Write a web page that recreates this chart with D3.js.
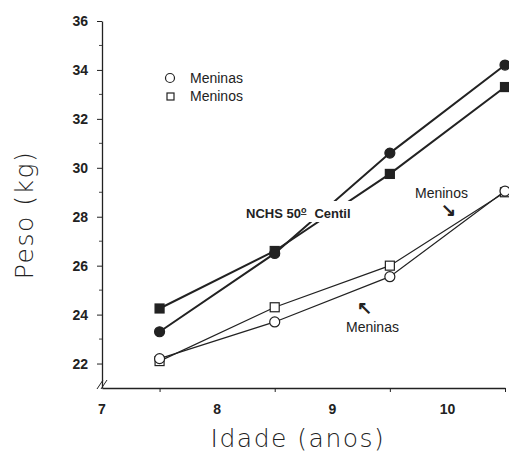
<!DOCTYPE html>
<html>
<head>
<meta charset="utf-8">
<script src="https://cdn.jsdelivr.net/npm/d3@7"></script>
<style>
  body { margin: 0; background: #fff; }
  text { font-family: "Liberation Sans", Arial, sans-serif; fill: #222; }
</style>
</head>
<body>
<div id="chart"></div>
<script>
// Idade (anos) for each point
const ages = [7.5, 8.5, 9.5, 10.5];
// NCHS 50th centile reference
const nchsGirls = [23.3, 26.5, 30.6, 34.2];
const nchsBoys = [24.25, 26.6, 29.75, 33.3];
// study sample
const girls = [22.2, 23.7, 25.55, 29.05];
const boys = [22.1, 24.3, 26.0, 29.0];
const xTickLabels = [7, 8, 9, 10];
const yTickLabels = [22, 24, 26, 28, 30, 32, 34, 36];

const width = 509, height = 454;
const svg = d3.select('#chart').append('svg')
  .attr('width', width)
  .attr('height', height);

const x = d3.scaleLinear().domain([7, 10.5]).range([102, 505]);
const y = d3.scaleLinear().domain([21, 36]).range([388, 21]);

// y axis
const yAxis = svg.append('g')
  .attr('transform', 'translate(102,0)')
  .call(d3.axisLeft(y).tickValues(yTickLabels).tickSize(5).tickPadding(9).tickSizeOuter(0));
yAxis.select('.domain').attr('stroke', '#222').attr('stroke-width', 1.3);
yAxis.selectAll('.tick line').attr('stroke', '#222');
yAxis.selectAll('text').style('font-size', '14px').style('font-weight', 'bold').attr('fill', '#333');
// minor ticks at odd values
svg.append('g').selectAll('line')
  .data(d3.range(23, 36, 2))
  .enter().append('line')
  .attr('x1', 99).attr('x2', 102)
  .attr('y1', d => y(d)).attr('y2', d => y(d))
  .attr('stroke', '#444');

// x axis
const xAxis = svg.append('g')
  .attr('transform', 'translate(0,388)')
  .call(d3.axisBottom(x).tickValues(ages).tickSize(4).tickFormat('').tickSizeOuter(0));
xAxis.select('.domain').attr('stroke', '#222').attr('stroke-width', 1.3);
xAxis.selectAll('.tick line').attr('stroke', '#222');
svg.append('g').selectAll('text')
  .data(xTickLabels)
  .enter().append('text')
  .attr('x', d => x(d))
  .attr('y', 414)
  .attr('text-anchor', 'middle')
  .style('font-size', '14px')
  .style('font-weight', 'bold')
  .attr('fill', '#333')
  .text(d => d);

// axis break marks
svg.append('g').selectAll('line')
  .data([0, 4])
  .enter().append('line')
  .attr('x1', d => 97 + d).attr('y1', 389)
  .attr('x2', d => 103 + d).attr('y2', 380)
  .attr('stroke', '#222').attr('stroke-width', 1);

// axis titles
svg.append('text')
  .attr('transform', 'translate(33,215) rotate(-90)')
  .attr('text-anchor', 'middle')
  .style('font-size', '25px')
  .style('letter-spacing', '1.5px')
  .style('font-family', '"DejaVu Sans", sans-serif')
  .style('font-weight', '200')
  .attr('fill', '#333')
  .text('Peso (kg)');
svg.append('text')
  .attr('x', 298)
  .attr('y', 447)
  .attr('text-anchor', 'middle')
  .style('font-size', '25px')
  .style('letter-spacing', '1.5px')
  .style('font-family', '"DejaVu Sans", sans-serif')
  .style('font-weight', '200')
  .attr('fill', '#333')
  .text('Idade (anos)');

const line = vals => d3.line()
  .x((d, i) => x(ages[i]))
  .y(d => y(d))(vals);

// lines
svg.append('path').attr('d', line(nchsGirls)).attr('fill', 'none').attr('stroke', '#222').attr('stroke-width', 2);
svg.append('path').attr('d', line(nchsBoys)).attr('fill', 'none').attr('stroke', '#222').attr('stroke-width', 2);
svg.append('path').attr('d', line(girls)).attr('fill', 'none').attr('stroke', '#222').attr('stroke-width', 1.2);
svg.append('path').attr('d', line(boys)).attr('fill', 'none').attr('stroke', '#222').attr('stroke-width', 1.2);

// mask for the NCHS label
svg.append('rect')
  .attr('x', 240).attr('y', 201).attr('width', 122).attr('height', 21)
  .attr('fill', '#fff');
const nchs = svg.append('text')
  .attr('x', 246).attr('y', 218)
  .style('font-size', '13px')
  .style('font-weight', 'bold')
  .attr('fill', '#333');
nchs.append('tspan').text('NCHS 50');
nchs.append('tspan').attr('dy', -5).style('font-size', '9px').style('text-decoration', 'underline').text('o');
nchs.append('tspan').attr('dy', 5).attr('dx', 8).text('Centil');

// markers
const circles = (vals, filled) => svg.append('g').selectAll('circle')
  .data(vals).enter().append('circle')
  .attr('cx', (d, i) => x(ages[i]))
  .attr('cy', d => y(d))
  .attr('r', 5)
  .attr('fill', filled ? '#222' : '#fff')
  .attr('stroke', '#222').attr('stroke-width', 1.2);
const squares = (vals, filled) => svg.append('g').selectAll('rect')
  .data(vals).enter().append('rect')
  .attr('x', (d, i) => x(ages[i]) - 4.5)
  .attr('y', d => y(d) - 4.5)
  .attr('width', 9).attr('height', 9)
  .attr('fill', filled ? '#222' : '#fff')
  .attr('stroke', '#222').attr('stroke-width', 1.2);
squares(boys, false);
circles(girls, false);
squares(nchsBoys, true);
circles(nchsGirls, true);

// legend
svg.append('circle').attr('cx', 170).attr('cy', 78).attr('r', 4.5)
  .attr('fill', '#fff').attr('stroke', '#222').attr('stroke-width', 1.2);
svg.append('rect').attr('x', 167).attr('y', 93).attr('width', 7).attr('height', 7)
  .attr('fill', '#fff').attr('stroke', '#222').attr('stroke-width', 1.2);
svg.append('text').attr('x', 190).attr('y', 83).style('font-size', '14px').attr('fill', '#333').text('Meninas');
svg.append('text').attr('x', 190).attr('y', 101).style('font-size', '14px').attr('fill', '#333').text('Meninos');

// annotations
svg.append('text').attr('x', 415).attr('y', 198).style('font-size', '14px').attr('fill', '#333').text('Meninos');
svg.append('text').attr('x', 448).attr('y', 216).attr('text-anchor', 'middle').style('font-size', '18px').style('font-weight', 'bold').attr('fill', '#222').text('↘');
svg.append('text').attr('x', 364).attr('y', 314).attr('text-anchor', 'middle').style('font-size', '18px').style('font-weight', 'bold').attr('fill', '#222').text('↖');
svg.append('text').attr('x', 346).attr('y', 332).style('font-size', '14px').attr('fill', '#333').text('Meninas');
</script>
</body>
</html>
